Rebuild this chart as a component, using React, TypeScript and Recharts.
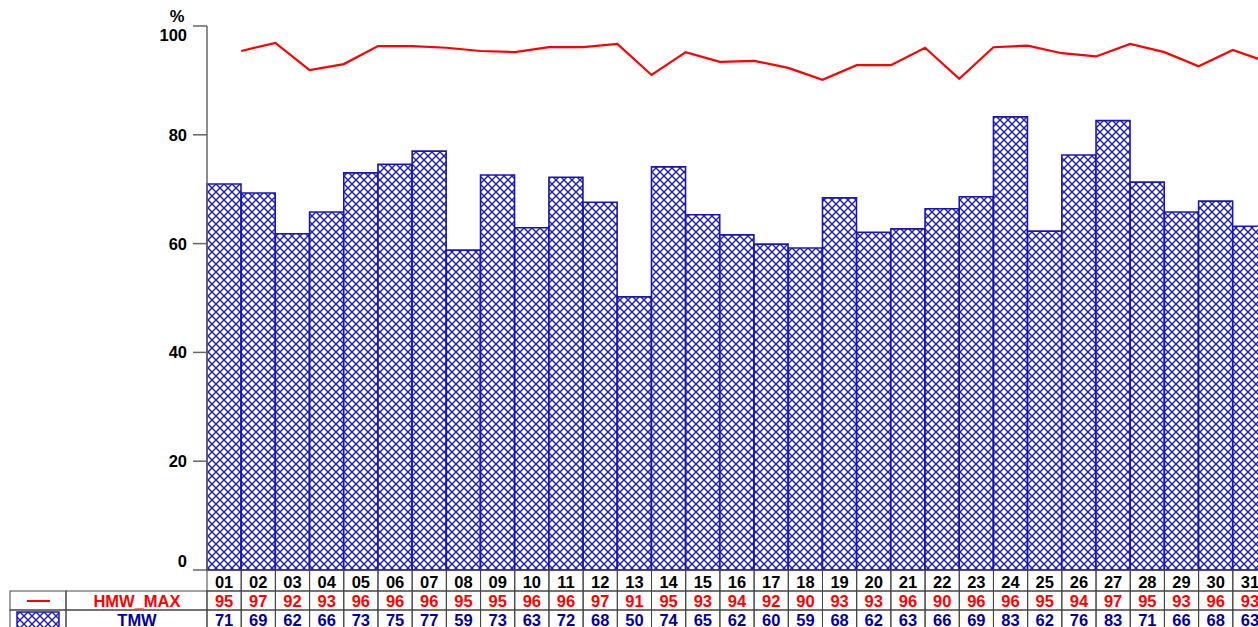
import React from "react";
import { ComposedChart, Bar, Line, XAxis, YAxis } from "recharts";

const days = ["01","02","03","04","05","06","07","08","09","10","11","12","13","14","15","16","17","18","19","20","21","22","23","24","25","26","27","28","29","30","31"];
const tmw = [70.96,69.3,61.8,65.8,73.0,74.6,77.0,58.8,72.6,62.9,72.2,67.6,50.2,74.1,65.3,61.6,59.9,59.2,68.4,62.1,62.7,66.4,68.6,83.3,62.3,76.3,82.6,71.3,65.8,67.8,63.2];
const hmwMax = [95.4,96.9,91.9,93.0,96.3,96.3,96.0,95.4,95.2,96.1,96.1,96.7,91.0,95.2,93.4,93.6,92.3,90.1,92.8,92.8,96.0,90.3,96.1,96.4,95.0,94.4,96.7,95.2,92.6,95.6,93.4];
const yTicks = [0, 20, 40, 60, 80, 100];
const seriesNames = { hmw: "HMW_MAX", tmw: "TMW" };

const data = days.map((d, i) => ({ label: d, day: i + 1, tmw: tmw[i], hmw: hmwMax[i] }));

const CHART_W = 1270;
const CHART_H = 627;
const Y_AXIS_W = 207;
const M_RIGHT = 3;
const M_TOP = 26;
const X_AXIS_H = 57;
const PLOT_W = CHART_W - Y_AXIS_W - M_RIGHT;
const BAND = PLOT_W / days.length;
const PLOT_BOTTOM = CHART_H - X_AXIS_H;
const ROW1 = PLOT_BOTTOM;
const ROW2 = ROW1 + 21;
const ROW3 = ROW2 + 19;
const ROW_END = ROW3 + 19;

const RED = "#ff0000";
const BLUE = "#0000a0";
const BAR_STROKE = "#1818b0";
const HATCH = "#1c1cbc";
const GRID = "#444";
const FONT = "'Liberation Sans', Arial, sans-serif";
const FS = 16.5;

const TableTick = (props: any) => {
  const { x, index } = props;
  const left = x - BAND / 2;
  return (
    <g>
      <rect x={left} y={ROW1} width={BAND} height={ROW2 - ROW1} fill="none" stroke={GRID} strokeWidth={1} />
      <rect x={left} y={ROW2} width={BAND} height={ROW3 - ROW2} fill="none" stroke={GRID} strokeWidth={1} />
      <rect x={left} y={ROW3} width={BAND} height={ROW_END - ROW3} fill="none" stroke={GRID} strokeWidth={1} />
      <text x={x} y={ROW1 + 18} textAnchor="middle" fontFamily={FONT} fontWeight="bold" fontSize={FS} fill="#000">{days[index]}</text>
      <text x={x} y={ROW2 + 16} textAnchor="middle" fontFamily={FONT} fontWeight="bold" fontSize={FS} fill={RED}>{Math.round(hmwMax[index])}</text>
      <text x={x} y={ROW3 + 16} textAnchor="middle" fontFamily={FONT} fontWeight="bold" fontSize={FS} fill={BLUE}>{Math.round(tmw[index])}</text>
    </g>
  );
};

const YTick = (props: any) => {
  const { x, y, payload } = props;
  let dy = 6;
  if (payload.value === yTicks[yTicks.length - 1]) dy = 15;
  if (payload.value === yTicks[0]) dy = -3;
  return (
    <text x={x} y={y + dy} textAnchor="end" fontFamily={FONT} fontWeight="bold" fontSize={FS} fill="#000">{payload.value}</text>
  );
};

export default function App() {
  return (
    <div style={{ position: "absolute", left: 0, top: 0, width: 1258, height: 627, overflow: "hidden", background: "#fff" }}>
      <ComposedChart
        width={CHART_W}
        height={CHART_H}
        data={data}
        margin={{ top: M_TOP, right: M_RIGHT, bottom: 0, left: 0 }}
        barCategoryGap={0}
        barGap={0}
      >
        <defs>
          <pattern id="hatch" patternUnits="userSpaceOnUse" width="8" height="8">
            <rect width="8" height="8" fill="#fff" />
            <path d="M0,0 L8,8 M8,0 L0,8" stroke={HATCH} strokeWidth={1.4} />
          </pattern>
        </defs>
        <XAxis
          xAxisId="cat"
          dataKey="label"
          type="category"
          height={X_AXIS_H}
          axisLine={false}
          tickLine={false}
          tick={<TableTick />}
          interval={0}
        />
        <XAxis xAxisId="num" dataKey="day" type="number" domain={[0, days.length]} hide />
        <YAxis
          width={Y_AXIS_W}
          domain={[0, 100]}
          ticks={yTicks}
          tickSize={14}
          tickMargin={6}
          tick={<YTick />}
          axisLine={{ stroke: "#666", strokeWidth: 1.5 }}
          tickLine={{ stroke: "#666", strokeWidth: 1.5 }}
          interval={0}
        />
        <Bar xAxisId="cat" dataKey="tmw" name={seriesNames.tmw} fill="url(#hatch)" stroke={BAR_STROKE} strokeWidth={1.6} isAnimationActive={false} />
        <Line xAxisId="num" dataKey="hmw" name={seriesNames.hmw} type="linear" stroke={RED} strokeWidth={2.2} dot={false} isAnimationActive={false} />
      </ComposedChart>
      <svg width={1258} height={627} style={{ position: "absolute", left: 0, top: 0, pointerEvents: "none" }}>
        <defs>
          <pattern id="hatch2" patternUnits="userSpaceOnUse" width="8" height="8">
            <rect width="8" height="8" fill="#fff" />
            <path d="M0,0 L8,8 M8,0 L0,8" stroke={HATCH} strokeWidth={1.4} />
          </pattern>
        </defs>
        <text x={177} y={22} textAnchor="middle" fontFamily={FONT} fontWeight="bold" fontSize={FS} fill="#000">%</text>
        <rect x={10} y={ROW2} width={56} height={ROW3 - ROW2} fill="none" stroke={GRID} strokeWidth={1} />
        <rect x={66} y={ROW2} width={Y_AXIS_W - 66} height={ROW3 - ROW2} fill="none" stroke={GRID} strokeWidth={1} />
        <rect x={10} y={ROW3} width={56} height={ROW_END - ROW3} fill="none" stroke={GRID} strokeWidth={1} />
        <rect x={66} y={ROW3} width={Y_AXIS_W - 66} height={ROW_END - ROW3} fill="none" stroke={GRID} strokeWidth={1} />
        <line x1={27} x2={50} y1={ROW2 + 10} y2={ROW2 + 10} stroke={RED} strokeWidth={2} />
        <rect x={17} y={ROW3 + 2} width={42} height={20} fill="url(#hatch2)" stroke={BAR_STROKE} strokeWidth={1.5} />
        <text x={137} y={ROW2 + 16} textAnchor="middle" fontFamily={FONT} fontWeight="bold" fontSize={FS} fill={RED}>{seriesNames.hmw}</text>
        <text x={137} y={ROW3 + 16} textAnchor="middle" fontFamily={FONT} fontWeight="bold" fontSize={FS} fill={BLUE}>{seriesNames.tmw}</text>
      </svg>
    </div>
  );
}
